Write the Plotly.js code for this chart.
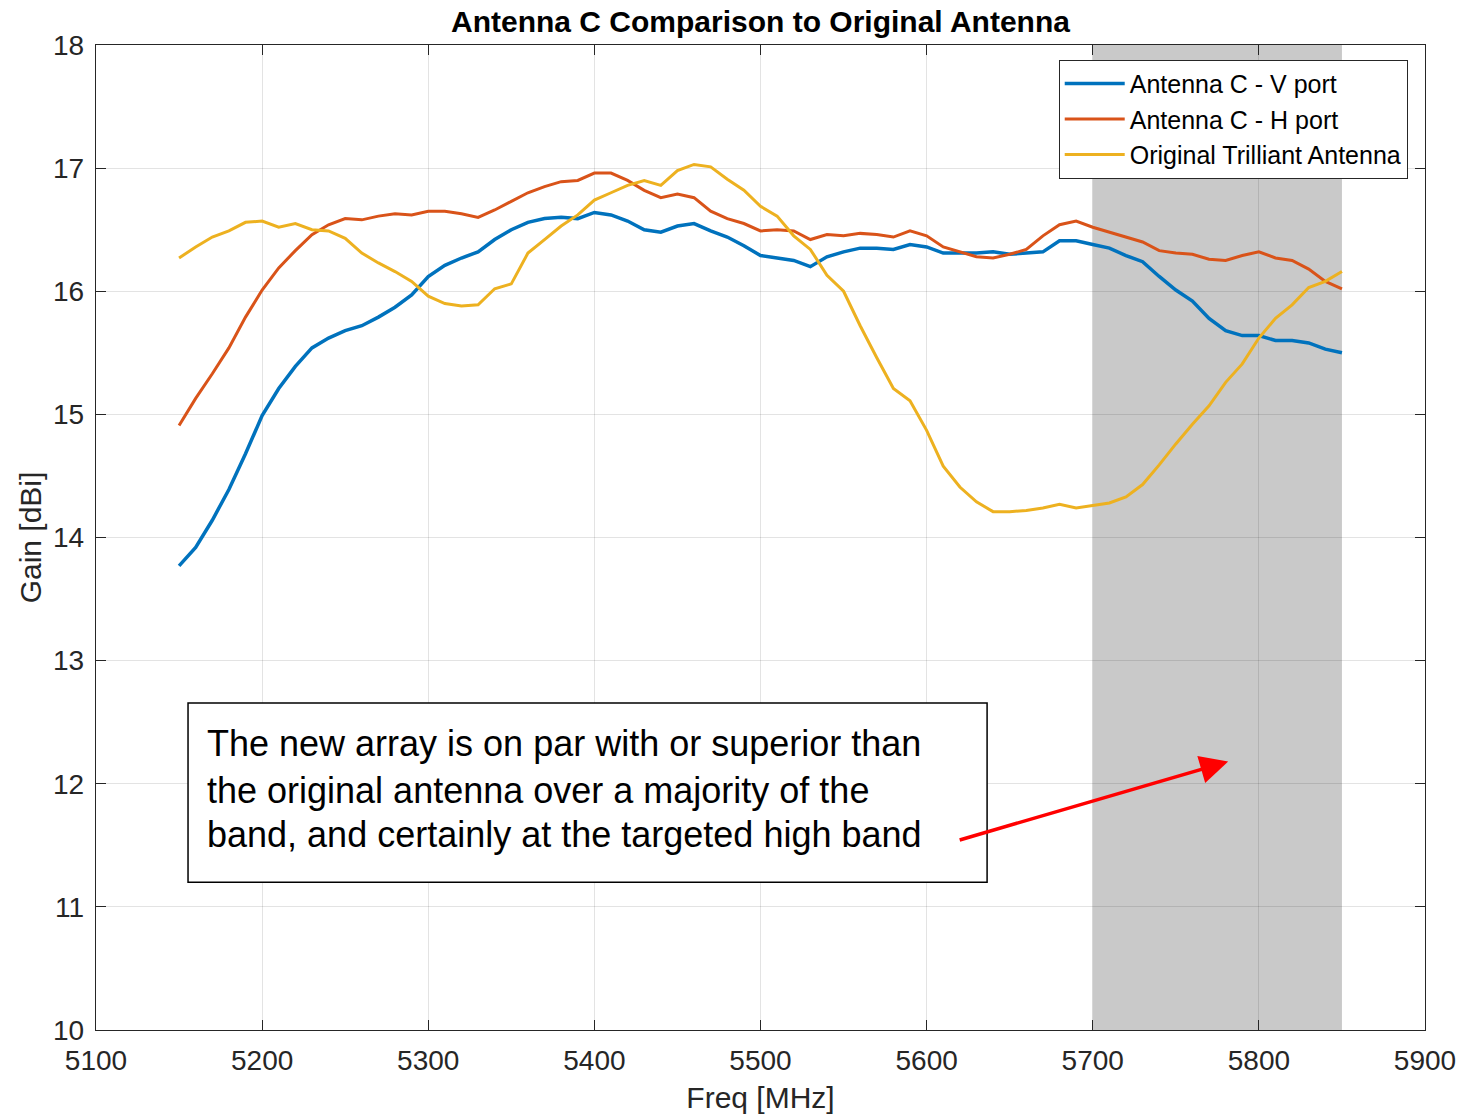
<!DOCTYPE html>
<html>
<head>
<meta charset="utf-8">
<script src="https://cdn.plot.ly/plotly-3.0.1.min.js"></script>
<style>html,body{margin:0;padding:0;background:#fff;}#chart{width:1461px;height:1117px;}</style>
</head>
<body>
<div id="chart"></div>
<script>
const freq = [5150,5160,5170,5180,5190,5200,5210,5220,5230,5240,
  5250,5260,5270,5280,5290,5300,5310,5320,5330,5340,
  5350,5360,5370,5380,5390,5400,5410,5420,5430,5440,
  5450,5460,5470,5480,5490,5500,5510,5520,5530,5540,
  5550,5560,5570,5580,5590,5600,5610,5620,5630,5640,
  5650,5660,5670,5680,5690,5700,5710,5720,5730,5740,
  5750,5760,5770,5780,5790,5800,5810,5820,5830,5840,
  5850];

const vPort = [13.77,13.92,14.14,14.39,14.68,14.99,15.21,15.39,15.54,15.62,
  15.68,15.72,15.79,15.87,15.97,16.12,16.21,16.27,16.32,16.42,
  16.50,16.56,16.59,16.60,16.59,16.64,16.62,16.57,16.50,16.48,
  16.53,16.55,16.49,16.44,16.37,16.29,16.27,16.25,16.20,16.28,
  16.32,16.35,16.35,16.34,16.38,16.36,16.31,16.31,16.31,16.32,
  16.30,16.31,16.32,16.41,16.41,16.38,16.35,16.29,16.24,16.12,
  16.01,15.92,15.78,15.68,15.64,15.64,15.60,15.60,15.58,15.53,
  15.50];

const hPort = [14.91,15.13,15.33,15.54,15.79,16.01,16.19,16.33,16.46,16.54,
  16.59,16.58,16.61,16.63,16.62,16.65,16.65,16.63,16.60,16.66,
  16.73,16.80,16.85,16.89,16.90,16.96,16.96,16.90,16.82,16.76,
  16.79,16.76,16.65,16.59,16.55,16.49,16.50,16.49,16.42,16.46,
  16.45,16.47,16.46,16.44,16.49,16.45,16.36,16.32,16.28,16.27,
  16.30,16.34,16.45,16.54,16.57,16.52,16.48,16.44,16.40,16.33,
  16.31,16.30,16.26,16.25,16.29,16.32,16.27,16.25,16.18,16.08,
  16.02];

const original = [16.27,16.36,16.44,16.49,16.56,16.57,16.52,16.55,16.50,16.49,
  16.43,16.31,16.23,16.16,16.08,15.96,15.90,15.88,15.89,16.02,
  16.06,16.31,16.42,16.53,16.62,16.74,16.80,16.86,16.90,16.86,
  16.98,17.03,17.01,16.91,16.82,16.69,16.61,16.45,16.34,16.13,
  16.00,15.72,15.46,15.21,15.11,14.87,14.58,14.41,14.29,14.21,
  14.21,14.22,14.24,14.27,14.24,14.26,14.28,14.33,14.43,14.59,
  14.76,14.92,15.07,15.26,15.41,15.62,15.78,15.89,16.03,16.08,
  16.16];

const seriesNames = ['Antenna C - V port','Antenna C - H port','Original Trilliant Antenna'];
const highBand = [5700, 5850];
const noteLines = ['The new array is on par with or superior than',
  'the original antenna over a majority of the',
  'band, and certainly at the targeted high band'];
const noteLineY = [12.331, 11.949, 11.584];

const FONT = '"Liberation Sans", Arial, Helvetica, sans-serif';

const traces = [
  {x: freq, y: vPort, name: seriesNames[0], type: 'scatter', mode: 'lines',
   line: {color: '#0072BD', width: 3.5}},
  {x: freq, y: hPort, name: seriesNames[1], type: 'scatter', mode: 'lines',
   line: {color: '#D95319', width: 3}},
  {x: freq, y: original, name: seriesNames[2], type: 'scatter', mode: 'lines',
   line: {color: '#EDB120', width: 3}}
];

const axisCommon = {
  showline: true, linecolor: '#262626', linewidth: 1.2, mirror: 'ticks',
  ticks: 'inside', ticklen: 10, tickcolor: '#262626', tickwidth: 1,
  showgrid: true, gridcolor: 'rgba(0,0,0,0.11)', gridwidth: 1,
  zeroline: false, tickfont: {family: FONT, size: 28, color: '#262626'},
  ticklabelstandoff: 5
};

const annotations = noteLines.map((t, i) => ({
  xref: 'x', yref: 'y', x: 5165.6, y: noteLineY[i], xanchor: 'left', yanchor: 'middle',
  align: 'left', showarrow: false, text: t,
  font: {family: FONT, size: 36, color: '#000000'}
}));
annotations.push({xref: 'x', yref: 'y', x: 5781.5, y: 12.18, axref: 'x', ayref: 'y', ax: 5619, ay: 11.54,
  text: '', showarrow: true, arrowhead: 2, arrowsize: 1.6, arrowwidth: 3.5,
  arrowcolor: '#ff0000', standoff: 0, startstandoff: 0});

const layout = {
  width: 1461, height: 1117,
  margin: {l: 96, r: 36, t: 45, b: 87},
  paper_bgcolor: '#ffffff', plot_bgcolor: '#ffffff',
  font: {family: FONT, color: '#262626'},
  title: {text: '<b>Antenna C Comparison to Original Antenna</b>',
    font: {family: FONT, size: 30, color: '#000000'},
    x: 0.5205, xanchor: 'center', y: 0.981, yanchor: 'middle'},
  xaxis: Object.assign({}, axisCommon, {
    range: [5100, 5900], dtick: 100, tick0: 5100,
    title: {text: 'Freq [MHz]', font: {family: FONT, size: 30, color: '#262626'}, standoff: 12}
  }),
  yaxis: Object.assign({}, axisCommon, {
    range: [10, 18], dtick: 1,
    title: {text: 'Gain [dBi]', font: {family: FONT, size: 30, color: '#262626'}, standoff: 2}
  }),
  showlegend: true,
  legend: {x: 0.987, xanchor: 'right', y: 0.985, yanchor: 'top',
    bgcolor: '#ffffff', bordercolor: '#262626', borderwidth: 1,
    font: {family: FONT, size: 25, color: '#000000'}, tracegroupgap: 0,
    itemwidth: 60},
  shapes: [
    {type: 'rect', xref: 'x', yref: 'paper', x0: highBand[0], x1: highBand[1], y0: 0, y1: 1,
     fillcolor: '#c9c9c9', line: {width: 0}, layer: 'below'},
    {type: 'rect', xref: 'x', yref: 'y', x0: 5155.4, x1: 5636.4, y0: 11.20, y1: 12.655,
     fillcolor: '#ffffff', line: {color: '#000000', width: 1.5}, layer: 'above'}
  ],
  annotations: annotations
};

Plotly.newPlot('chart', traces, layout, {displayModeBar: false, staticPlot: true});
</script>
</body>
</html>
